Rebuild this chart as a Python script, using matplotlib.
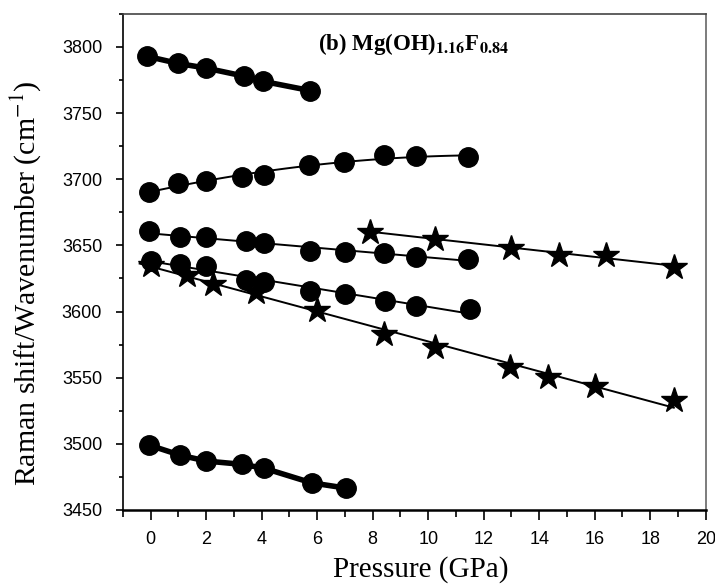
import numpy as np
import matplotlib
matplotlib.use('Agg')
import matplotlib.pyplot as plt
from matplotlib.ticker import MultipleLocator

plt.rcParams['mathtext.fontset'] = 'stix'

# OH stretching modes vs pressure, Mg(OH)1.16F0.84
# band A (top, 3790 region)
pA = [-0.15, 1.0, 2.0, 3.35, 4.05, 5.75]
wA = [3793, 3787.5, 3784, 3778, 3774, 3767]

# band B (3690-3720, curved)
pB = [-0.05, 1.0, 2.0, 3.3, 4.1, 5.7, 6.95, 8.4, 9.55, 11.45]
wB = [3690, 3697, 3699, 3702, 3703, 3711, 3713, 3718, 3717.5, 3716.5]

# band C (circles near 3650)
pC = [-0.05, 1.05, 2.0, 3.45, 4.1, 5.75, 7.0, 8.4, 9.55, 11.45]
wC = [3661, 3656, 3656, 3653.5, 3651.5, 3646, 3645, 3644.5, 3641.5, 3640]

# band D (stars, high pressure phase)
pD = [7.9, 10.25, 13.0, 14.7, 16.4, 18.85]
wD = [3660.5, 3655, 3648, 3643, 3642.5, 3634]

# band E (circles near 3620)
pE = [0.0, 1.05, 2.0, 3.45, 4.1, 5.75, 7.0, 8.45, 9.55, 11.5]
wE = [3638.5, 3636, 3634.5, 3623.5, 3622.5, 3615.5, 3613, 3608, 3604.5, 3602]

# band F (stars, 3635 -> 3532)
pF = [0.0, 1.3, 2.25, 3.8, 6.0, 8.4, 10.25, 12.95, 14.3, 16.0, 18.85]
wF = [3635, 3628, 3621, 3615, 3601, 3583, 3573, 3558, 3550.5, 3544, 3533]

# band G (bottom, 3500 region)
pG = [-0.05, 1.05, 2.0, 3.3, 4.1, 5.8, 7.05]
wG = [3499, 3491.5, 3487, 3484.5, 3481.5, 3470.5, 3466.5]

fig = plt.figure(figsize=(7.15, 5.86), dpi=100)
ax = fig.add_axes([0.172, 0.1297, 0.815, 0.8466])

def fit_line(p, w, deg=1, x0=None):
    c = np.polyfit(p, w, deg)
    xs = np.linspace(min(p) if x0 is None else x0, max(p), 100)
    ax.plot(xs, np.polyval(c, xs), color='k', lw=1.4, zorder=2)

# blob-like bands drawn as thick joined circles
ax.plot(pA, wA, color='k', lw=4, marker='o', ms=14, zorder=3)
ax.plot(pG, wG, color='k', lw=4, marker='o', ms=14, zorder=3)

fit_line(pB, wB, deg=2)
ax.plot(pB, wB, 'o', color='k', ms=14, zorder=3)

fit_line(pC, wC)
ax.plot(pC, wC, 'o', color='k', ms=14, zorder=3)

fit_line(pD, wD)
ax.plot(pD, wD, '*', color='k', ms=19, zorder=3)

fit_line(pE, wE)
ax.plot(pE, wE, 'o', color='k', ms=14, zorder=3)

fit_line(pF, wF, x0=-0.4)
ax.plot(pF, wF, '*', color='k', ms=19, zorder=3)

ax.set_xlim(-1, 20)
ax.set_ylim(3450, 3825)
ax.xaxis.set_major_locator(MultipleLocator(2))
ax.xaxis.set_minor_locator(MultipleLocator(1))
ax.yaxis.set_major_locator(MultipleLocator(50))
ax.yaxis.set_minor_locator(MultipleLocator(25))
ax.tick_params(axis='both', which='both', direction='out', width=1.2)
ax.tick_params(axis='x', which='major', length=7, pad=8)
ax.tick_params(axis='x', which='minor', length=5)
ax.tick_params(axis='y', which='major', length=5, pad=10)
ax.tick_params(axis='y', which='minor', length=3)
for lab in ax.get_xticklabels() + ax.get_yticklabels():
    lab.set_fontfamily('Liberation Sans')
    lab.set_fontsize(13)

for s in ['top', 'right', 'left']:
    ax.spines[s].set_linewidth(1.2)
ax.spines['bottom'].set_linewidth(1.8)
ax.spines['top'].set_color('#444444')
ax.spines['right'].set_color('#666666')

ax.set_xlabel('Pressure (GPa)', fontfamily='Liberation Serif', fontsize=21)
ax.xaxis.set_label_coords(0.511, -0.093)
ax.set_ylabel('Raman shift/Wavenumber (cm$^{-1}$)', fontfamily='Liberation Serif',
              fontsize=21.5)
ax.yaxis.set_label_coords(-0.138, 0.458)

ax.text(0.498, 0.94, r'(b) Mg(OH)$_{\mathbf{1.16}}$F$_{\mathbf{0.84}}$',
        transform=ax.transAxes, ha='center', va='center',
        fontfamily='Liberation Serif', fontweight='bold', fontsize=16.5)

fig.savefig('out.png', dpi=100)
